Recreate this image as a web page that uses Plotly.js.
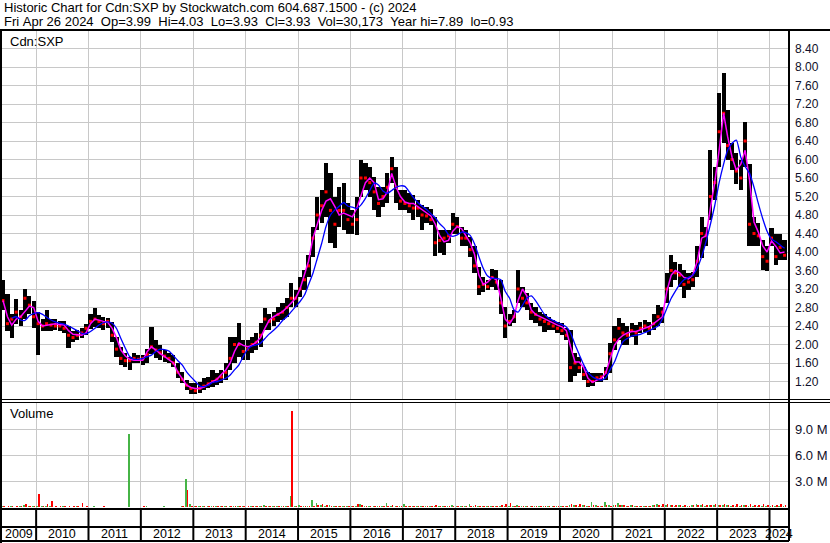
<!DOCTYPE html>
<html><head><meta charset="utf-8">
<script src="https://cdn.plot.ly/plotly-3.0.1.min.js"></script>
<style>html,body{margin:0;padding:0;background:#fff;}#chart{width:830px;height:543px;}</style>
</head><body><div id="chart"></div>
<script>
// ---------- DATA (monthly, May 2009 .. Apr 2024) ----------
const startYear = 2009, startMonth = 5;
const high = [
 3.40,3.10,2.65,2.98,2.75,3.19,3.05,2.93,
 2.70,2.55,2.75,2.55,2.55,2.50,2.50,2.40,2.30,2.32,2.35,2.45,
 2.65,2.78,2.63,2.60,2.58,2.48,2.17,1.95,1.81,1.74,1.81,1.78,
 1.78,1.90,2.38,2.10,2.00,1.88,1.81,1.78,1.60,1.41,1.23,1.16,
 1.16,1.20,1.27,1.30,1.45,1.38,1.45,1.60,2.17,2.17,2.46,2.10,
 2.10,2.17,2.24,2.46,2.78,2.67,2.71,2.82,2.89,3.00,3.32,3.18,
 3.47,3.61,3.94,4.55,5.20,5.34,5.92,5.70,5.20,5.41,5.49,5.05,
 4.91,5.20,5.99,5.92,5.84,5.63,5.41,5.41,5.70,6.06,5.84,5.34,
 5.34,5.27,5.23,5.13,5.02,4.98,4.94,4.76,4.48,4.48,4.48,4.84,
 4.76,4.55,4.48,4.33,4.12,3.68,3.47,3.40,3.63,3.61,3.40,2.82,
 2.67,2.75,3.61,3.25,3.11,2.89,2.82,2.71,2.67,2.60,2.53,2.49,
 2.46,2.35,2.31,1.81,1.74,1.52,1.41,1.38,1.39,1.39,1.52,2.03,
 2.39,2.57,2.46,2.39,2.46,2.42,2.49,2.53,2.49,2.67,2.85,2.82,
 3.54,3.93,3.79,3.75,3.61,3.54,3.57,4.12,4.76,4.55,6.20,5.84,
 7.43,7.88,7.07,6.35,6.13,5.99,6.82,5.90,4.76,4.62,4.26,4.12,
 4.51,4.40,4.40,4.26];
const low = [
 2.75,2.30,2.13,2.45,2.40,2.55,2.65,2.35,
 1.78,2.30,2.30,2.30,2.32,2.30,2.25,1.92,2.05,2.10,2.15,2.20,
 2.33,2.38,2.35,2.32,2.35,2.05,1.74,1.56,1.52,1.45,1.60,1.60,
 1.56,1.60,1.80,1.70,1.66,1.63,1.60,1.52,1.27,1.16,1.02,0.93,
 0.93,0.95,1.02,1.05,1.09,1.13,1.16,1.23,1.45,1.59,1.74,1.67,
 1.67,1.81,1.88,1.95,2.31,2.31,2.39,2.49,2.53,2.60,2.82,2.82,
 3.03,3.18,3.47,3.90,4.48,4.62,4.76,4.19,4.08,4.55,4.48,4.40,
 4.40,4.37,5.20,5.34,5.20,4.91,4.76,4.98,5.05,5.49,5.05,4.91,
 4.91,4.84,4.69,4.76,4.48,4.62,4.58,3.91,3.97,3.93,4.19,4.40,
 4.40,4.12,4.12,3.90,3.54,3.07,3.14,3.18,3.25,3.18,2.67,2.13,
 2.39,2.46,2.89,2.82,2.75,2.53,2.46,2.39,2.28,2.31,2.31,2.24,
 2.21,2.10,1.20,1.31,1.38,1.23,1.09,1.10,1.20,1.20,1.23,1.38,
 1.88,2.10,2.00,2.00,2.17,1.99,2.24,2.28,2.20,2.31,2.39,2.46,
 2.89,3.25,3.39,3.25,3.00,3.18,3.25,3.47,3.86,4.12,4.69,5.12,
 5.84,6.35,5.99,5.77,5.48,5.34,5.84,4.12,4.12,4.12,3.61,3.58,
 4.12,3.72,3.83,3.83];
const close = [
 2.95,2.45,2.55,2.70,2.60,3.00,2.85,2.60,
 2.45,2.40,2.45,2.42,2.40,2.40,2.35,2.20,2.15,2.20,2.25,2.35,
 2.50,2.55,2.50,2.45,2.50,2.20,1.90,1.70,1.65,1.65,1.70,1.68,
 1.70,1.78,1.95,1.88,1.82,1.75,1.70,1.60,1.40,1.25,1.12,1.05,
 1.00,1.05,1.10,1.15,1.20,1.25,1.30,1.40,1.70,2.00,2.00,1.85,
 1.90,2.00,2.05,2.20,2.55,2.50,2.55,2.65,2.70,2.80,3.00,3.00,
 3.20,3.40,3.70,4.30,4.80,5.00,5.30,4.90,4.60,4.90,4.90,4.70,
 4.60,4.70,5.60,5.60,5.50,5.30,5.05,5.20,5.40,5.80,5.40,5.10,
 5.05,5.00,4.95,4.95,4.80,4.78,4.70,4.20,4.25,4.30,4.35,4.60,
 4.55,4.30,4.30,4.05,3.70,3.25,3.30,3.25,3.45,3.35,2.90,2.40,
 2.50,2.60,3.20,3.00,2.90,2.70,2.65,2.55,2.50,2.45,2.40,2.35,
 2.30,2.20,1.50,1.60,1.50,1.35,1.20,1.20,1.28,1.30,1.40,1.80,
 2.10,2.35,2.25,2.20,2.30,2.25,2.35,2.40,2.35,2.45,2.60,2.70,
 3.20,3.60,3.55,3.50,3.30,3.35,3.40,3.80,4.40,4.35,5.20,5.50,
 6.60,7.00,6.30,6.00,5.75,5.60,6.40,4.60,4.40,4.35,3.90,3.80,
 4.30,3.90,4.10,3.93];
const maShort = [
 2.95,2.60,2.42,2.55,2.60,2.72,2.83,2.80,
 2.50,2.40,2.42,2.44,2.45,2.43,2.42,2.30,2.22,2.21,2.20,2.25,
 2.45,2.55,2.52,2.50,2.48,2.35,2.15,1.88,1.75,1.68,1.66,1.66,
 1.66,1.85,1.95,1.88,1.80,1.74,1.68,1.60,1.40,1.25,1.12,1.07,
 1.05,1.05,1.08,1.14,1.20,1.25,1.35,1.45,1.60,1.85,2.03,1.98,
 1.95,1.98,2.05,2.15,2.35,2.53,2.60,2.66,2.71,2.80,2.90,3.00,
 3.20,3.50,3.80,4.30,4.60,4.90,5.10,5.15,4.98,4.80,4.84,4.80,
 4.76,4.95,5.20,5.50,5.60,5.50,5.13,5.15,5.30,5.70,5.40,5.20,
 5.08,5.05,5.05,4.98,4.92,4.86,4.78,4.60,4.35,4.22,4.25,4.45,
 4.55,4.50,4.35,4.20,3.95,3.50,3.30,3.35,3.45,3.40,3.00,2.55,
 2.45,2.60,2.95,3.20,3.05,2.75,2.65,2.60,2.56,2.50,2.46,2.42,
 2.38,2.30,1.95,1.62,1.62,1.50,1.27,1.18,1.23,1.27,1.38,1.66,
 1.98,2.12,2.20,2.25,2.28,2.28,2.32,2.36,2.39,2.45,2.52,2.60,
 3.15,3.50,3.60,3.55,3.45,3.42,3.50,3.80,4.30,4.35,4.95,5.50,
 6.20,7.00,6.50,6.05,5.77,5.90,6.20,5.55,4.65,4.43,4.13,4.00,
 4.24,4.12,3.98,4.00];
const maLong = [
 null,null,2.57,2.60,2.53,2.52,2.62,2.67,
 2.69,2.65,2.59,2.53,2.49,2.46,2.44,2.40,2.35,2.30,2.24,2.23,
 2.28,2.35,2.42,2.47,2.49,2.46,2.35,2.13,1.92,1.74,1.68,1.68,
 1.70,1.74,1.77,1.85,1.90,1.89,1.86,1.76,1.65,1.56,1.41,1.30,
 1.20,1.10,1.09,1.12,1.18,1.20,1.23,1.27,1.34,1.45,1.56,1.74,
 1.90,1.97,1.99,2.03,2.13,2.23,2.31,2.40,2.52,2.60,2.71,2.82,
 2.93,3.07,3.29,3.54,3.86,4.19,4.55,4.80,4.91,4.99,5.07,4.99,
 4.97,4.94,5.02,5.16,5.33,5.49,5.45,5.32,5.27,5.33,5.40,5.43,
 5.42,5.30,5.18,5.07,4.99,4.92,4.83,4.74,4.61,4.52,4.38,4.34,
 4.37,4.43,4.42,4.36,4.18,3.90,3.65,3.48,3.43,3.43,3.40,3.15,
 3.00,2.75,2.70,2.85,3.00,3.05,2.95,2.80,2.65,2.57,2.52,2.47,
 2.43,2.38,2.25,2.00,1.78,1.56,1.39,1.30,1.25,1.23,1.28,1.45,
 1.62,1.87,2.06,2.13,2.18,2.20,2.22,2.26,2.30,2.35,2.40,2.55,
 2.78,3.00,3.15,3.30,3.40,3.45,3.50,3.65,3.90,4.22,4.60,5.00,
 5.50,5.90,6.20,6.35,6.42,6.05,5.85,5.70,5.40,5.05,4.72,4.45,
 4.28,4.22,4.15,4.08];
// volume in millions of shares
const volUp = [
 0.08,0.05,0.06,0.05,0.10,0.25,0.08,0.06,
 0.15,0.06,0.10,0.08,0.05,0.05,0.06,0.05,0.05,0.06,0.05,0.05,
 0.05,0.08,0.05,0.04,0.04,0.04,0.04,0.04,0.05,8.40,0.05,0.04,
 0.05,0.08,0.05,0.05,0.04,0.12,0.04,0.04,0.05,0.10,3.20,0.40,
 0.08,0.12,0.06,0.10,0.08,0.15,0.06,0.10,0.08,0.15,0.08,0.10,
 0.05,0.10,0.08,0.06,0.18,0.08,0.06,0.10,0.08,0.10,1.26,0.08,
 0.25,0.12,0.15,0.80,0.45,0.20,0.15,0.20,0.10,0.12,0.15,0.10,
 0.10,0.08,0.30,0.15,0.12,0.15,0.10,0.15,0.45,0.12,0.10,0.15,
 0.35,0.10,0.12,0.08,0.10,0.06,0.08,0.15,0.10,0.08,0.12,0.20,
 0.15,0.12,0.10,0.35,0.12,0.08,0.10,0.06,0.15,0.10,0.12,0.08,
 0.15,0.12,0.20,0.10,0.12,0.08,0.10,0.08,0.10,0.12,0.08,0.10,
 0.10,0.12,0.20,0.25,0.15,0.20,0.12,0.60,0.20,0.15,0.55,0.20,
 0.25,0.45,0.20,0.15,0.20,0.12,0.10,0.15,0.12,0.20,0.35,0.15,
 0.20,0.25,0.15,0.20,0.15,0.12,0.20,0.40,0.20,0.15,0.20,0.18,
 0.20,0.25,0.20,0.12,0.15,0.12,0.18,0.15,0.12,0.15,0.12,0.15,
 0.12,0.10,0.15,0.12];
const volDown = [
 0.10,0.08,0.06,0.10,0.08,0.34,0.06,0.08,
 1.50,0.10,0.35,0.70,0.08,0.10,0.08,0.06,0.08,0.06,0.50,0.06,
 0.05,0.04,0.05,0.06,0.04,0.04,0.04,0.05,0.04,0.05,0.05,0.04,
 0.08,0.05,0.04,0.05,0.04,0.05,0.04,0.05,0.05,0.06,1.95,0.10,
 0.10,0.08,0.12,0.08,0.06,0.08,0.10,0.06,0.10,0.08,0.12,0.08,
 0.08,0.06,0.10,0.08,0.10,0.06,0.08,0.10,0.06,0.08,11.10,0.10,
 0.10,0.15,0.10,0.12,0.25,0.30,0.20,0.15,0.12,0.10,0.15,0.12,
 0.15,0.35,0.20,0.15,0.12,0.10,0.15,0.12,0.10,0.20,0.15,0.12,
 0.15,0.10,0.12,0.10,0.15,0.08,0.10,0.25,0.15,0.10,0.12,0.10,
 0.10,0.15,0.12,0.10,0.20,0.15,0.10,0.12,0.10,0.15,0.20,0.30,
 0.45,0.15,0.10,0.12,0.10,0.15,0.12,0.10,0.12,0.10,0.12,0.15,
 0.12,0.15,0.30,0.20,0.40,0.25,0.15,0.20,0.12,0.15,0.20,0.15,
 0.20,0.25,0.20,0.15,0.20,0.12,0.15,0.12,0.15,0.25,0.20,0.30,
 0.30,0.25,0.20,0.25,0.20,0.15,0.20,0.25,0.30,0.20,0.25,0.30,
 0.25,0.35,0.25,0.20,0.30,0.20,0.25,0.35,0.25,0.20,0.30,0.25,
 0.20,0.25,0.35,0.20];
const priceTicks = [1.2,1.6,2.0,2.4,2.8,3.2,3.6,4.0,4.4,4.8,5.2,5.6,6.0,6.4,6.8,7.2,7.6,8.0,8.4];
const volTicks = [3, 6, 9];
const volTickText = ['3.0 M', '6.0 M', '9.0 M'];
const years = [2009,2010,2011,2012,2013,2014,2015,2016,2017,2018,2019,2020,2021,2022,2023,2024];
const headerLine1 = 'Historic Chart for Cdn:SXP by Stockwatch.com 604.687.1500 - (c) 2024';
const headerLine2 = 'Fri Apr 26 2024  Op=3.99  Hi=4.03  Lo=3.93  Cl=3.93  Vol=30,173  Year hi=7.89  lo=0.93';
const symbolLabel = 'Cdn:SXP';
const volumeLabel = 'Volume';

// ---------- helpers / layout ----------
const FONT = '"Liberation Sans", Arial, Helvetica, sans-serif';
const W = 830, H = 543, ML = 2, MR = 41, MT = 30, MB = 34;
const PW = W - ML - MR, PH = H - MT - MB;
const px = X => (X - ML) / PW;          // pixel -> paper x
const py = Y => (H - MB - Y) / PH;      // pixel -> paper y
const DAY = 86400000;
const xRange = ['2009-05-08', '2024-05-16'];
const pad = n => String(n).padStart(2, '0');
function monthDate(i, day) {
  const m0 = startMonth - 1 + i;
  return (startYear + Math.floor(m0 / 12)) + '-' + pad(m0 % 12 + 1) + '-' + pad(day);
}
const n = close.length;
const xMid = [], xUp = [], xDn = [];
for (let i = 0; i < n; i++) { xMid.push(monthDate(i, 15)); xUp.push(monthDate(i, 9)); xDn.push(monthDate(i, 21)); }
const span = high.map((h, i) => h - low[i]);
const nbsp = s => s.replace(/ /g, '\u00a0');

const traces = [
  {type:'bar', x:xMid, y:span, base:low, width:29*DAY, marker:{color:'#000', line:{width:0}}, xaxis:'x', yaxis:'y', hoverinfo:'skip'},
  {type:'scatter', mode:'markers', x:xMid, y:close, marker:{color:'#ff0000', size:3, symbol:'square', line:{width:0}}, xaxis:'x', yaxis:'y', hoverinfo:'skip'},
  {type:'scatter', mode:'lines', x:xMid, y:maShort, line:{color:'#ff00ff', width:1.5}, xaxis:'x', yaxis:'y', hoverinfo:'skip'},
  {type:'scatter', mode:'lines', x:xMid, y:maLong, line:{color:'#0000ff', width:1.3, shape:'spline', smoothing:0.6}, connectgaps:false, xaxis:'x', yaxis:'y', hoverinfo:'skip'},
  {type:'bar', x:xUp, y:volUp, width:11*DAY, marker:{color:'#46b446', line:{width:0}}, xaxis:'x', yaxis:'y2', hoverinfo:'skip'},
  {type:'bar', x:xDn, y:volDown, width:11*DAY, marker:{color:'#ff0000', line:{width:0}}, xaxis:'x', yaxis:'y2', hoverinfo:'skip'}
];

const blackLine = (x0, y0, x1, y1, w, xref) => ({type:'line', layer:'above', xref:xref || 'paper', yref:'paper', x0:x0, y0:y0, x1:x1, y1:y1, line:{color:'#000', width:w}});
const shapes = [
  blackLine(px(0), py(30), px(W), py(30), 2),
  blackLine(px(1), py(30), px(1), py(H), 2),
  blackLine(px(789), py(30), px(789), py(541), 2),
  blackLine(px(0), py(399.5), px(W), py(399.5), 1),
  blackLine(px(0), py(402.5), px(W), py(402.5), 1),
  blackLine(px(0), py(509), px(789), py(509), 2),
  blackLine(px(0), py(527), px(789), py(527), 2),
  blackLine(px(0), py(541), px(789), py(541), 2)
];
years.slice(1).forEach(y => shapes.push(blackLine(y + '-01-01', py(509), y + '-01-01', py(541), 2, 'x')));

const annotations = [
  {xref:'paper', yref:'paper', x:px(2), y:py(7.5), xanchor:'left', yanchor:'middle', text:nbsp(headerLine1), showarrow:false, font:{size:13, color:'#000'}},
  {xref:'paper', yref:'paper', x:px(2), y:py(22), xanchor:'left', yanchor:'middle', text:nbsp(headerLine2), showarrow:false, font:{size:13, color:'#000'}},
  {xref:'paper', yref:'paper', x:px(8), y:py(41), xanchor:'left', yanchor:'middle', text:symbolLabel, showarrow:false, font:{size:13, color:'#000'}},
  {xref:'paper', yref:'paper', x:px(8), y:py(413), xanchor:'left', yanchor:'middle', text:volumeLabel, showarrow:false, font:{size:13, color:'#000'}}
];
years.forEach(y => {
  const a = Math.max(Date.parse(y + '-01-01'), Date.parse(xRange[0]));
  const b = Math.min(Date.parse((y + 1) + '-01-01'), Date.parse(xRange[1]));
  const mid = new Date((a + b) / 2).toISOString().slice(0, 10);
  annotations.push({xref:'x', yref:'paper', x:mid, y:py(534), xanchor:'center', yanchor:'middle', text:String(y), showarrow:false, font:{size:12.5, color:'#000'}});
});

const layout = {
  width:W, height:H, margin:{l:ML, r:MR, t:MT, b:MB, pad:0},
  paper_bgcolor:'#fff', plot_bgcolor:'#fff', showlegend:false, barmode:'overlay', bargap:0,
  font:{family:FONT, size:13, color:'#000'},
  xaxis:{type:'date', range:xRange, anchor:'y2', domain:[0,1], showgrid:true, gridcolor:'#c8c8c8', gridwidth:1,
         tick0:'2010-01-01', dtick:'M12', showticklabels:false, ticks:'', zeroline:false, showline:false, fixedrange:true},
  yaxis:{domain:[py(400), 1], range:[0.8, 8.8], side:'right', anchor:'x', tickmode:'array', tickvals:priceTicks,
         ticktext:priceTicks.map(v => v.toFixed(2)), showgrid:true, gridcolor:'#c8c8c8', gridwidth:1, zeroline:false,
         showline:false, ticks:'', ticklabelstandoff:5, tickfont:{size:12, color:'#10102a'}, fixedrange:true},
  yaxis2:{domain:[0, py(402)], range:[-0.23, 12.14], side:'right', anchor:'x', tickmode:'array', tickvals:volTicks,
          ticktext:volTickText, showgrid:true, gridcolor:'#c8c8c8', gridwidth:1, zeroline:false, showline:false, ticks:'',
          ticklabelstandoff:5, tickfont:{size:13, color:'#10102a'}, fixedrange:true},
  shapes:shapes, annotations:annotations
};
Plotly.newPlot('chart', traces, layout, {staticPlot:true, displayModeBar:false});
</script></body></html>
